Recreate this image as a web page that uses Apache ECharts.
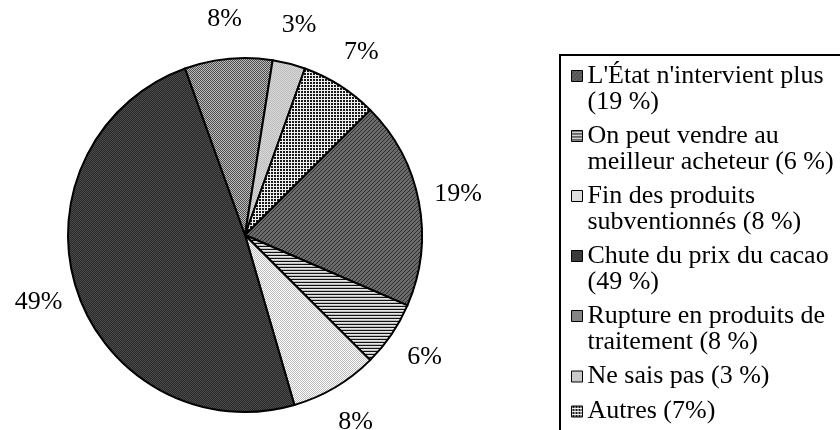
<!DOCTYPE html>
<html>
<head>
<meta charset="utf-8">
<script src="https://cdn.jsdelivr.net/npm/echarts@6/dist/echarts.min.js"></script>
<style>
  html, body { margin: 0; background: #fff; }
  #chart { width: 840px; height: 430px; }
</style>
</head>
<body>
<div id="chart"></div>
<script>
  // data
  const categories = [
    "L'État n'intervient plus\n(19 %)",
    "On peut vendre au\nmeilleur acheteur (6 %)",
    "Fin des produits\nsubventionnés (8 %)",
    "Chute du prix du cacao\n(49 %)",
    "Rupture en produits de\ntraitement (8 %)",
    "Ne sais pas (3 %)",
    "Autres (7%)"
  ];
  const values = [19, 6, 8, 49, 8, 3, 7];

  const font = "'Liberation Serif', 'Times New Roman', serif";

  // small tiles used as hatch fills (excel-like patterns)
  function tile(w, h, draw) {
    const c = document.createElement('canvas');
    c.width = w; c.height = h;
    draw(c.getContext('2d'));
    return { image: c, repeat: 'repeat' };
  }
  function checker(a, b) {
    return tile(2, 2, function (ctx) {
      ctx.fillStyle = a; ctx.fillRect(0, 0, 2, 2);
      ctx.fillStyle = b; ctx.fillRect(0, 0, 1, 1); ctx.fillRect(1, 1, 1, 1);
    });
  }
  const fills = [
    // L'État : dark diagonal
    tile(4, 4, function (ctx) {
      ctx.fillStyle = '#6a6a6a'; ctx.fillRect(0, 0, 4, 4);
      ctx.fillStyle = '#303030';
      for (let i = 0; i < 4; i++) ctx.fillRect(i, 3 - i, 1, 1);
    }),
    // On peut vendre : horizontal stripes
    tile(4, 3, function (ctx) {
      ctx.fillStyle = '#e6e6e6'; ctx.fillRect(0, 0, 4, 3);
      ctx.fillStyle = '#111'; ctx.fillRect(0, 0, 4, 1);
      ctx.fillStyle = '#bdbdbd'; ctx.fillRect(0, 2, 4, 1);
    }),
    checker('#ffffff', '#bdbdbd'),   // Fin des produits
    checker('#2a2a2a', '#4a4a4a'),   // Chute du prix
    checker('#bcbcbc', '#4e4e4e'),   // Rupture
    checker('#d8d8d8', '#bdbdbd'),   // Ne sais pas
    // Autres : grid
    tile(3, 3, function (ctx) {
      ctx.fillStyle = '#1a1a1a'; ctx.fillRect(0, 0, 3, 3);
      ctx.fillStyle = '#f0f0f0'; ctx.fillRect(0, 0, 3, 1); ctx.fillRect(0, 0, 1, 3);
    })
  ];

  // legend icons: the square sits next to the first text line
  const iconTwoLines = 'path://M0,0L11,0L11,11L0,11Z M0,37';
  const iconOneLine = 'path://M0,0 M0,7.5L11,7.5L11,18.5L0,18.5Z M0,26';

  const chart = echarts.init(document.getElementById('chart'), null, { renderer: 'canvas' });

  chart.setOption({
    animation: false,
    backgroundColor: '#fff',
    legend: {
      orient: 'vertical',
      left: 560,
      top: 55,
      height: 700,
      padding: [8, 30, 60, 11],
      itemWidth: 11,
      itemHeight: 37,
      itemGap: 8,
      symbolKeepAspect: true,
      selectedMode: false,
      borderColor: '#000',
      borderWidth: 2,
      itemStyle: { borderColor: '#000', borderWidth: 1 },
      textStyle: { fontFamily: font, fontSize: 26, lineHeight: 26, color: '#000' },
      data: categories.map(function (n) {
        return { name: n, icon: n.indexOf('\n') >= 0 ? iconTwoLines : iconOneLine };
      })
    },
    series: [
      {
        type: 'pie',
        center: [245, 235],
        radius: 177,
        startAngle: 45,
        clockwise: true,
        silent: true,
        label: { show: false },
        labelLine: { show: false },
        itemStyle: { borderColor: '#000', borderWidth: 2 },
        data: values.map(function (v, i) {
          return { name: categories[i], value: v, itemStyle: { color: fills[i] } };
        })
      },
      {
        // transparent ring that only carries the percentage labels
        type: 'pie',
        center: [245, 235],
        radius: [190, 238],
        startAngle: 45,
        clockwise: true,
        silent: true,
        itemStyle: { color: 'rgba(0,0,0,0)', borderWidth: 0 },
        label: {
          show: true,
          position: 'inside',
          formatter: '{c}%',
          color: '#000',
          textBorderWidth: 0,
          fontFamily: font,
          fontSize: 26
        },
        labelLine: { show: false },
        data: values.map(function (v, i) {
          return { name: categories[i], value: v };
        })
      }
    ]
  });
</script>
</body>
</html>
